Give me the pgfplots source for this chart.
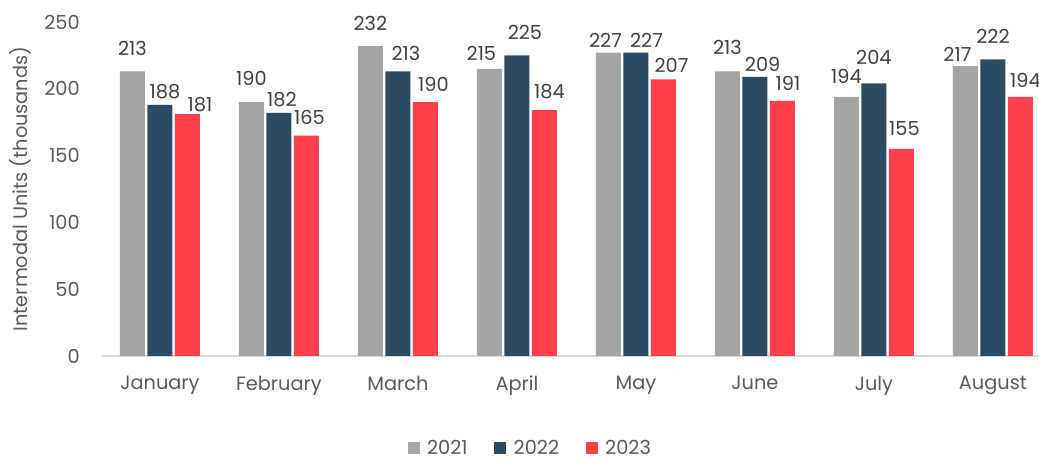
\documentclass[border=0pt]{standalone}
\usepackage{fontspec}
\setmainfont{Poppins}
\usepackage{pgfplots}
\pgfplotsset{compat=1.18}
\definecolor{cgrey}{HTML}{A5A5A5}
\definecolor{cblue}{HTML}{2C4A62}
\definecolor{cred}{HTML}{FF404C}
\definecolor{tgrey}{HTML}{595959}
\definecolor{lgrey}{HTML}{404040}
\definecolor{bgrey}{HTML}{D9D9D9}
\newcommand\fs{\fontsize{14.5}{16}\selectfont}
\pgfplotsset{lbl/.style={
  visualization depends on={\thisrow{dx} \as \ldx},
  visualization depends on={\thisrow{dy} \as \ldy},
  nodes near coords,
  every node near coord/.append style={font=\fs, text=lgrey, inner sep=0pt,
    anchor=center, xshift=0.75*\ldx pt, yshift=0.75*\ldy pt}}}
\begin{document}
\begin{tikzpicture}
\begin{axis}[
  scale only axis, width=702.75pt, height=250.5pt,
  /pgf/number format/assume math mode=true,
  ybar=1.9pt, bar width=18.75pt,
  xmin=-0.487, xmax=7.387, ymin=0, ymax=250,
  xtick={0,...,7},
  xticklabels={January,February,March,April,May,June,July,August},
  ytick={0,50,...,250},
  axis lines*=left,
  y axis line style={draw=none},
  x axis line style={draw=bgrey, line width=1pt},
  major tick length=0pt, tick style={draw=none},
  ticklabel style={font=\fs, text=tgrey},
  yticklabel style={inner sep=0pt, xshift=-16.5pt},
  xticklabel style={inner sep=0pt, yshift=-15pt},
  ylabel={Intermodal Units (thousands)},
  ylabel style={at={(axis description cs:-0.0875,0.5)}, anchor=center, font=\fs, text=tgrey},
  legend columns=3,
  legend style={draw=none, at={(axis description cs:0.4575,-0.276)}, anchor=center,
    font=\fs, text=tgrey, inner sep=0pt,
    /tikz/every odd column/.append style={column sep=3.5pt},
    /tikz/every even column/.append style={column sep=18pt}},
  legend image code/.code={\path[#1] (0pt,-4.5pt) rectangle (9pt,4.5pt);},
  clip=false,
]
% columns: category, value, label dx (px), label dy above bar top (px)
\addplot[fill=cgrey, draw=none, lbl] table[x=x,y=y] {
x y dx dy
0 213 0 23
1 190 0 23.4
2 232 0 22.4
3 215 -8 15.2
4 227 -3 12.5
5 213 0 23.8
6 194 0 20
7 217 -8 12
};
\addplot[fill=cblue, draw=none, lbl] table[x=x,y=y] {
x y dx dy
0 188 5 12.8
1 182 3 13.4
2 213 8 18
3 225 8 23.2
4 227 10.5 12.5
5 209 7.7 12
6 204 0 26.4
7 222 0 23
};
\addplot[fill=cred, draw=none, lbl] table[x=x,y=y] {
x y dx dy
0 181 12.5 9.6
1 165 3 18.5
2 190 8 17.9
3 184 5 18.5
4 207 8 14.5
5 191 5.5 17.9
6 155 3 20.5
7 194 5 16
};
\legend{2021,2022,2023}
\end{axis}
\pgfresetboundingbox
\useasboundingbox (-76.5pt,-77.25pt) rectangle (702.75pt,267pt);
\end{tikzpicture}
\end{document}
